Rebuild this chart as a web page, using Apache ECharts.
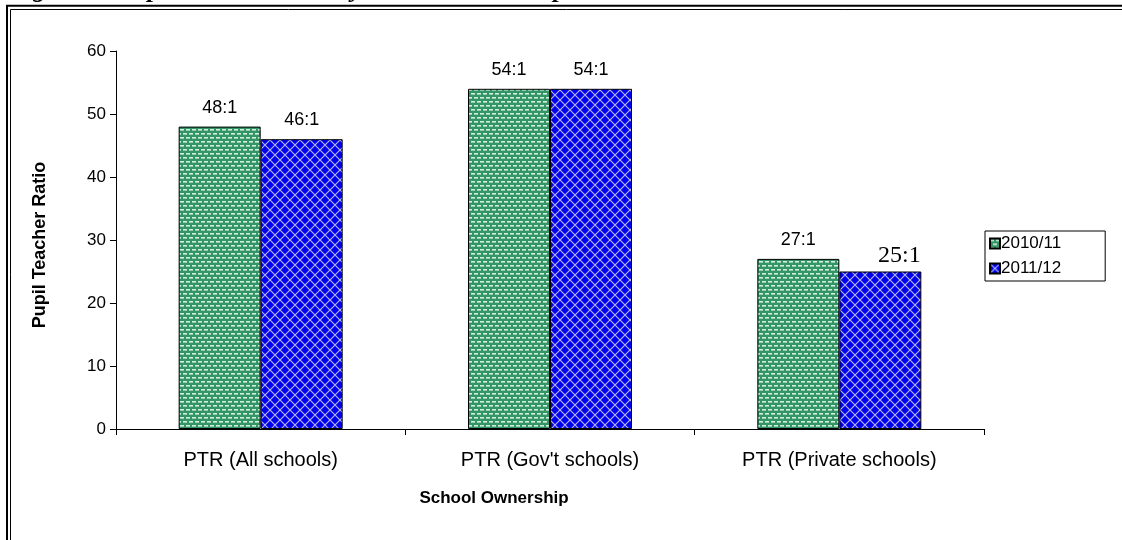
<!DOCTYPE html>
<html>
<head>
<meta charset="utf-8">
<script src="https://cdn.jsdelivr.net/npm/echarts@6/dist/echarts.min.js"></script>
<style>
  html, body { margin: 0; padding: 0; background: #ffffff; }
  #chart { width: 1122px; height: 540px; }
</style>
</head>
<body>
<div id="chart"></div>
<script>
// School ownership categories and pupil-teacher ratios (pupils per teacher)
const categories = ['PTR (All schools)', "PTR (Gov't schools)", 'PTR (Private schools)'];
const seriesNames = ['2010/11', '2011/12'];
const ptr2010 = [48, 54, 27];
const ptr2011 = [46, 54, 25];
const yMin = 0;
const yMax = 60;
const yStep = 10;

const FONT = '"Liberation Sans", Arial, sans-serif';

// Fill patterns for the two years
function dottedGreen() {
  const c = document.createElement('canvas');
  c.width = 6; c.height = 8;
  const g = c.getContext('2d');
  g.fillStyle = '#339565';
  g.fillRect(0, 0, 6, 8);
  g.fillStyle = '#d2f0e0';
  g.fillRect(0, 1, 4, 1.6);
  g.fillRect(3, 5, 3, 1.6);
  g.fillRect(0, 5, 1, 1.6);
  return c;
}
function latticeBlue() {
  const c = document.createElement('canvas');
  c.width = 10; c.height = 10;
  const g = c.getContext('2d');
  g.fillStyle = '#0000ec';
  g.fillRect(0, 0, 10, 10);
  g.strokeStyle = '#b4b4ea';
  g.lineWidth = 1.2;
  g.beginPath();
  g.moveTo(0, 0); g.lineTo(10, 10);
  g.moveTo(10, 0); g.lineTo(0, 10);
  g.stroke();
  return c;
}

const fills = [
  { image: dottedGreen(), repeat: 'repeat' },
  { image: latticeBlue(), repeat: 'repeat' }
];

const valueLabel = {
  show: true,
  position: 'top',
  distance: 10,
  color: '#000',
  fontFamily: FONT,
  fontSize: 18,
  formatter: p => p.value + ':1'
};

// The private-school 2011/12 label is set in a serif face
const privateLabel = {
  fontFamily: '"Liberation Serif", "Times New Roman", serif',
  fontSize: 24,
  offset: [19, 0],
  distance: 4
};

function buildData(values, overrideIndex, overrideLabel) {
  return values.map((v, i) => (i === overrideIndex ? { value: v, label: overrideLabel } : v));
}

const chart = echarts.init(document.getElementById('chart'), null, { renderer: 'canvas' });

chart.setOption({
  backgroundColor: '#ffffff',
  animation: false,
  grid: { left: 116, right: 138, top: 51, bottom: 111 },
  xAxis: {
    type: 'category',
    data: categories,
    axisLine: { lineStyle: { color: '#000', width: 1 } },
    axisTick: { show: true, length: 6, lineStyle: { color: '#000' } },
    axisLabel: { color: '#000', fontFamily: FONT, fontSize: 20, margin: 21 }
  },
  yAxis: {
    type: 'value',
    min: yMin,
    max: yMax,
    interval: yStep,
    axisLine: { show: true, lineStyle: { color: '#000', width: 1 } },
    axisTick: { show: true, length: 6, lineStyle: { color: '#000' } },
    splitLine: { show: false },
    axisLabel: { color: '#000', fontFamily: FONT, fontSize: 17, margin: 10 }
  },
  legend: {
    orient: 'vertical',
    left: 985,
    top: 231,
    padding: [4, 44, 4, 4],
    itemGap: 8,
    itemWidth: 10,
    itemHeight: 10,
    borderColor: '#000',
    borderWidth: 1,
    icon: 'rect',
    textStyle: { color: '#000', fontFamily: FONT, fontSize: 17, lineHeight: 17, padding: [0, 0, 0, -4] },
    data: seriesNames
  },
  series: [
    {
      name: seriesNames[0],
      type: 'bar',
      data: ptr2010,
      barWidth: 82,
      barGap: '0%',
      itemStyle: { color: fills[0], borderColor: '#000', borderWidth: 1 },
      label: valueLabel
    },
    {
      name: seriesNames[1],
      type: 'bar',
      data: buildData(ptr2011, 2, privateLabel),
      barWidth: 82,
      itemStyle: { color: fills[1], borderColor: '#000', borderWidth: 1 },
      label: valueLabel
    }
  ],
  graphic: [
    // figure caption running above the frame, only its lower edge falls inside the page
    {
      type: 'text', x: 9, y: 3,
      style: { text: 'Figure 4: Pupil Teacher Ratio by School Ownership', fill: '#000',
               align: 'left', verticalAlign: 'bottom',
               font: 'italic bold 26px "Liberation Serif", "Times New Roman", serif' }
    },
    // double frame around the figure
    { type: 'polyline', shape: { points: [[7, 540], [7, 5.7], [1122, 5.7]] }, style: { stroke: '#000', lineWidth: 2, fill: null } },
    { type: 'polyline', shape: { points: [[10.5, 540], [10.5, 9.5], [1122, 9.5]] }, style: { stroke: '#000', lineWidth: 1, fill: null } },
    // axis titles
    {
      type: 'text', x: 40, y: 245, rotation: Math.PI / 2,
      style: { text: 'Pupil Teacher Ratio', fill: '#000', align: 'center', verticalAlign: 'middle',
               font: 'bold 18px "Liberation Sans", Arial, sans-serif' }
    },
    {
      type: 'text', x: 494, y: 498,
      style: { text: 'School Ownership', fill: '#000', align: 'center', verticalAlign: 'middle',
               font: 'bold 17px "Liberation Sans", Arial, sans-serif' }
    }
  ]
});
</script>
</body>
</html>
